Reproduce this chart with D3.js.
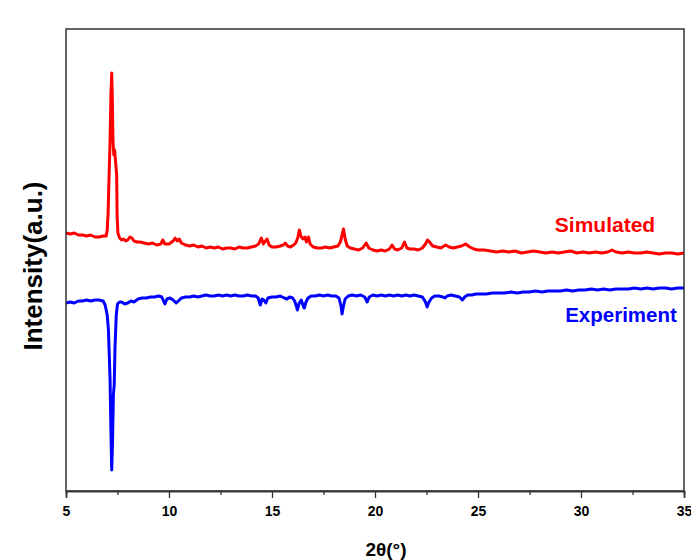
<!DOCTYPE html>
<html><head><meta charset="utf-8">
<script src="https://cdn.jsdelivr.net/npm/d3@7"></script>
<style>body{margin:0;background:#fff}svg{display:block}text{font-family:"Liberation Sans",Arial,sans-serif;font-weight:bold}</style>
</head><body><div id="chart"></div>
<script>
// 2θ positions and intensities (a.u.)
const simTheta = [5.0,5.2,5.4,5.6,5.8,6.0,6.2,6.4,6.6,6.8,6.95,7.0,7.04,7.1,7.14,7.18,7.22,7.25,7.28,7.32,7.36,7.42,7.46,7.48,7.52,7.6,7.7,7.8,7.9,8.0,8.1,8.2,8.3,8.45,8.6,8.8,9.0,9.2,9.4,9.6,9.7,9.8,10.0,10.2,10.3,10.4,10.5,10.6,10.8,11.0,11.2,11.4,11.6,11.8,12.0,12.2,12.4,12.6,12.8,13.0,13.2,13.4,13.6,13.8,14.0,14.2,14.35,14.48,14.58,14.68,14.76,14.86,15.0,15.2,15.4,15.55,15.65,15.75,15.9,16.05,16.15,16.25,16.33,16.4,16.5,16.6,16.67,16.77,16.85,17.0,17.2,17.4,17.6,17.8,18.0,18.2,18.32,18.4,18.47,18.55,18.65,18.8,19.0,19.2,19.4,19.57,19.7,19.9,20.1,20.3,20.5,20.7,20.83,20.95,21.1,21.3,21.43,21.55,21.7,21.9,22.1,22.3,22.45,22.55,22.65,22.8,23.0,23.2,23.43,23.6,23.8,24.0,24.2,24.4,24.6,24.8,25.0,25.3,25.6,25.9,26.2,26.5,26.8,27.1,27.4,27.7,28.0,28.3,28.6,28.9,29.2,29.5,29.8,30.1,30.4,30.7,31.0,31.3,31.5,31.7,32.0,32.3,32.6,32.9,33.2,33.5,33.8,34.1,34.4,34.7,35.0];
const simValues = [258,257,258,256,256,255,256,254,254,255,255,261,276,321,351,396,418,391,351,336,341,326,316,276,258,253,251,252,250,251,254,253,250,249,249,248,247,248,246,247,251,247,247,250,253,250,252,248,246,245,246,244,245,243,244,243,244,242,243,243,242,244,243,243,244,245,247,253,247,250,252,246,244,244,245,246,248,245,244,246,248,253,261,255,252,254,249,254,247,244,243,243,244,243,244,245,249,256,262,252,245,243,242,241,243,248,243,241,240,241,240,242,246,242,241,243,249,243,242,242,241,243,247,251,249,245,244,243,246,244,243,244,245,247,244,242,241,241,240,239,240,239,240,238,239,240,239,238,239,238,239,240,238,239,238,239,238,239,241,239,238,239,238,238,239,238,237,238,238,237,238];
const expTheta = [5.0,5.2,5.4,5.6,5.8,6.0,6.2,6.4,6.6,6.8,6.9,7.0,7.06,7.14,7.18,7.22,7.26,7.3,7.34,7.38,7.44,7.5,7.6,7.7,7.85,8.0,8.15,8.3,8.5,8.7,8.9,9.1,9.3,9.5,9.65,9.8,9.9,10.05,10.2,10.35,10.45,10.6,10.8,11.0,11.2,11.4,11.6,11.8,12.0,12.2,12.4,12.6,12.8,13.0,13.2,13.4,13.6,13.8,14.0,14.2,14.33,14.43,14.52,14.6,14.7,14.8,15.0,15.2,15.4,15.6,15.73,15.85,16.0,16.1,16.18,16.23,16.32,16.42,16.5,16.57,16.65,16.75,16.9,17.1,17.3,17.5,17.7,17.9,18.1,18.25,18.35,18.4,18.47,18.55,18.7,18.9,19.1,19.3,19.5,19.62,19.72,19.9,20.1,20.3,20.5,20.7,20.9,21.1,21.3,21.5,21.7,21.9,22.1,22.3,22.45,22.53,22.62,22.75,22.9,23.1,23.3,23.4,23.5,23.7,23.9,24.1,24.24,24.35,24.5,24.7,24.9,25.1,25.4,25.7,26.0,26.3,26.6,26.9,27.2,27.5,27.8,28.1,28.4,28.7,29.0,29.3,29.6,29.9,30.2,30.5,30.8,31.1,31.4,31.7,32.0,32.3,32.6,32.9,33.2,33.5,33.8,34.1,34.4,34.7,35.0];
const expValues = [188,189,188,190,190,191,190,191,191,190,186,176,161,111,61,21,51,96,106,144,176,187,189,189,187,188,190,189,192,193,193,194,194,195,194,187,192,193,191,188,190,193,194,194,195,194,195,196,195,195,196,195,196,195,196,195,195,196,195,195,193,186,192,191,188,193,194,194,195,193,192,194,193,190,185,181,188,191,186,183,189,193,195,195,196,195,196,195,195,193,185,177,185,192,195,196,195,196,194,189,194,196,195,196,195,196,195,196,195,196,195,196,195,194,189,184,189,193,195,195,194,193,195,196,195,194,191,194,196,196,197,197,197,198,198,198,199,198,199,199,200,199,200,200,200,201,200,201,201,202,201,202,201,202,202,202,203,202,203,202,203,203,202,203,203];
const xTicks = [5,10,15,20,25,30,35];
const xMinorTicks = [7.5,12.5,17.5,22.5,27.5,32.5];
const seriesNames = ["Simulated","Experiment"];
const seriesColors = ["#ff0000","#0000ff"];

const W = 691, H = 560;
const m = {l:66, t:29, r:7, b:69};
const svg = d3.select("#chart").append("svg").attr("width",W).attr("height",H);
const x = d3.scaleLinear().domain([5,35]).range([m.l, W-m.r]);
const y = d3.scaleLinear().domain([0,462]).range([H-m.b, m.t]);

const line = d3.line().x(d=>x(d[0])).y(d=>y(d[1]));
const sim = simTheta.map((t,i)=>[t,simValues[i]]);
const exp = expTheta.map((t,i)=>[t,expValues[i]]);

svg.append("path").datum(sim).attr("d",line).attr("fill","none").attr("stroke",seriesColors[0]).attr("stroke-width",3).attr("stroke-linejoin","round");
svg.append("path").datum(exp).attr("d",line).attr("fill","none").attr("stroke",seriesColors[1]).attr("stroke-width",3).attr("stroke-linejoin","round");

// frame
svg.append("rect").attr("x",m.l).attr("y",m.t).attr("width",W-m.r-m.l).attr("height",H-m.b-m.t)
  .attr("fill","none").attr("stroke","#333").attr("stroke-width",1.5);

// x axis
const gx = svg.append("g").attr("transform",`translate(0,${H-m.b})`);
gx.call(d3.axisBottom(x).tickValues(xTicks).tickSize(7).tickFormat(d3.format("d")));
gx.append("g").call(d3.axisBottom(x).tickValues(xMinorTicks).tickSize(4).tickFormat(""));
gx.selectAll(".domain").attr("stroke","#333").attr("stroke-width",1.5);
gx.selectAll(".tick line").attr("stroke","#333").attr("stroke-width",1.3);
gx.selectAll(".tick text").attr("font-size",14).attr("fill","#000").attr("dy","1.1em");

svg.append("text").attr("x",386).attr("y",556).attr("text-anchor","middle").attr("font-size",19).text("2θ(°)");
svg.append("text").attr("transform",`translate(42,266) rotate(-90)`).attr("text-anchor","middle").attr("font-size",26).text("Intensity(a.u.)");

svg.append("text").attr("x",605).attr("y",232).attr("text-anchor","middle").attr("font-size",21).attr("fill",seriesColors[0]).text(seriesNames[0]);
svg.append("text").attr("x",621).attr("y",322).attr("text-anchor","middle").attr("font-size",20.5).attr("fill",seriesColors[1]).text(seriesNames[1]);
</script></body></html>
